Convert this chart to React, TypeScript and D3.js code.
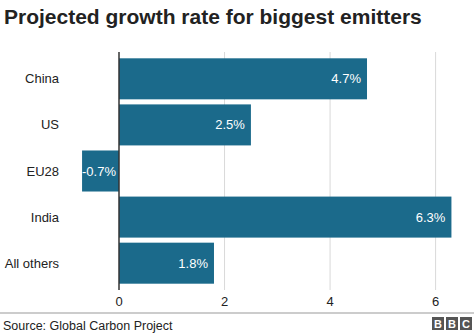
import React from "react";
import * as d3 from "d3";

const categories = ["China", "US", "EU28", "India", "All others"];
const values = [4.7, 2.5, -0.7, 6.3, 1.8];
const valueLabels = ["4.7%", "2.5%", "-0.7%", "6.3%", "1.8%"];
const tickValues = [0, 2, 4, 6];

const W = 474;
const H = 333;
const FONT = "'Liberation Sans', Arial, Helvetica, sans-serif";
const BAR = "#1b6a8b";

export default function App() {
  const x = d3.scaleLinear().domain([0, 6]).range([119, 435.6]);
  const y = d3.scaleBand<string>().domain(categories).range([56, 286]).paddingInner(0.11).paddingOuter(0.05);
  const gridTop = 52;
  const gridBottom = 290;
  return (
    <svg width={W} height={H} style={{ position: "absolute", left: 0, top: 0, display: "block" }}>
      <rect x={0} y={0} width={W} height={H} fill="#fff" />
      <text x={4} y={24} fontFamily={FONT} fontWeight="bold" fontSize={21} fill="#222">
        Projected growth rate for biggest emitters
      </text>
      {tickValues.filter((t) => t !== 0).map((t) => (
        <line key={t} x1={x(t)} x2={x(t)} y1={gridTop} y2={gridBottom} stroke="#d9d9d9" strokeWidth={1} />
      ))}
      {categories.map((c, i) => {
        const v = values[i];
        const x0 = x(Math.min(0, v));
        const x1 = x(Math.max(0, v));
        const yy = y(c)!;
        const bh = y.bandwidth();
        return (
          <g key={c}>
            <rect x={x0} y={yy} width={x1 - x0} height={bh} fill={BAR} />
            <text x={59} y={yy + bh / 2} dy="0.35em" textAnchor="end" fontFamily={FONT} fontSize={13} fill="#222">
              {c}
            </text>
            <text
              x={v >= 0 ? x1 - 6 : x(0) - 3}
              y={yy + bh / 2}
              dy="0.35em"
              textAnchor="end"
              fontFamily={FONT}
              fontSize={13}
              fill="#fff"
            >
              {valueLabels[i]}
            </text>
          </g>
        );
      })}
      <line x1={x(0)} x2={x(0)} y1={gridTop} y2={gridBottom} stroke="#333" strokeWidth={1.5} />
      {tickValues.map((t) => (
        <text key={t} x={x(t)} y={301} dy="0.35em" textAnchor="middle" fontFamily={FONT} fontSize={13} fill="#222">
          {t}
        </text>
      ))}
      <line x1={0} x2={W} y1={313} y2={313} stroke="#999" strokeWidth={1.2} />
      <text x={3} y={330} fontFamily={FONT} fontSize={12.5} fill="#222">
        Source: Global Carbon Project
      </text>
      {["B", "B", "C"].map((l, i) => (
        <g key={i}>
          <rect x={432 + i * 14} y={317} width={12} height={13} fill="#555" />
          <text x={438 + i * 14} y={327.5} textAnchor="middle" fontFamily={FONT} fontWeight="bold" fontSize={11} fill="#fff">
            {l}
          </text>
        </g>
      ))}
    </svg>
  );
}
